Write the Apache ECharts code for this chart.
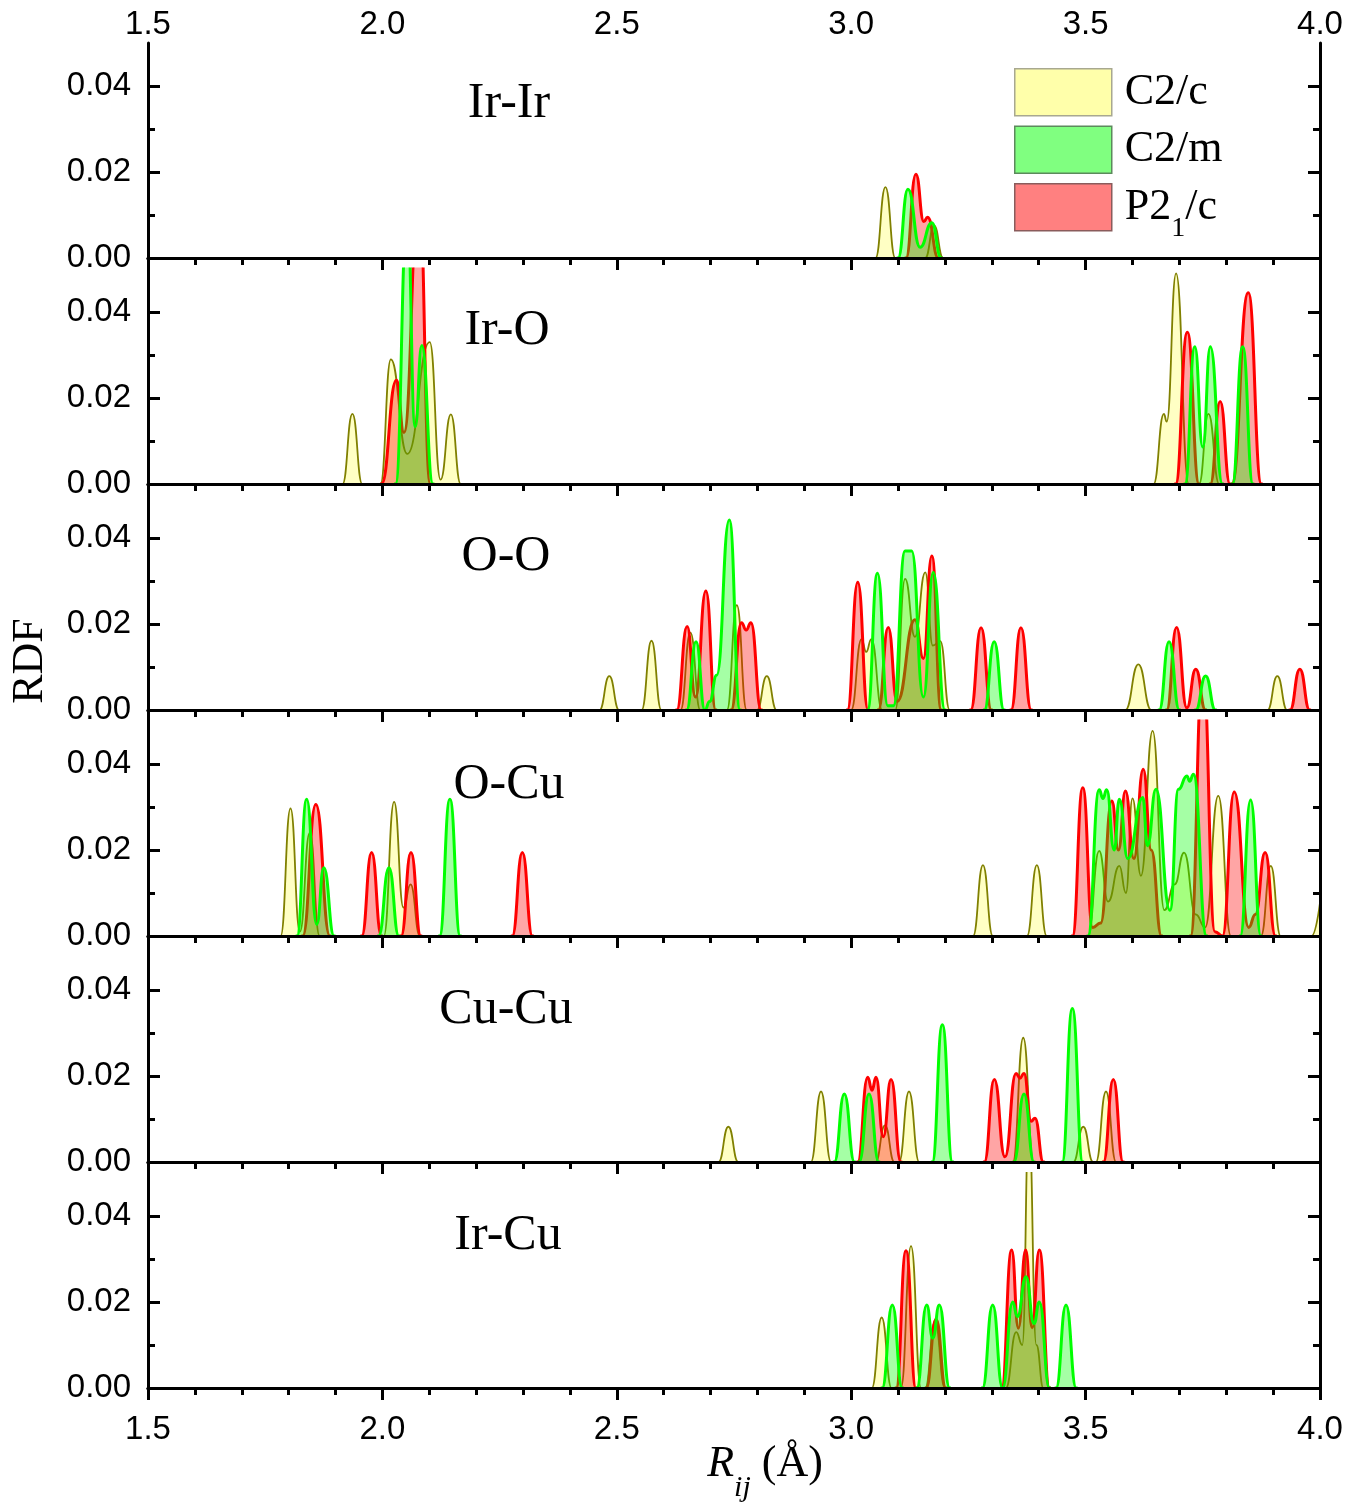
<!DOCTYPE html>
<html>
<head>
<meta charset="utf-8">
<script src="https://cdn.jsdelivr.net/npm/echarts@6/dist/echarts.min.js"></script>
<style>
  html, body { margin: 0; padding: 0; background: #ffffff; }
  #chart { width: 1364px; height: 1503px; }
</style>
</head>
<body>
<div id="chart"></div>
<script>
// ---- axis ticks and labels ----
const xTicks = [1.5, 2.0, 2.5, 3.0, 3.5, 4.0];
const yTicks = [0.00, 0.02, 0.04];
const yMinorTicks = [0.01, 0.03];

// ---- pair names (one panel each) and structure names ----
const panelNames = ['Ir-Ir', 'Ir-O', 'O-O', 'O-Cu', 'Cu-Cu', 'Ir-Cu'];
const seriesNames = ['C2/c', 'C2/m', 'P2_1/c'];

// ---- RDF curves: [R (Å), g] points along each curve ----
// Ir-Ir
const irIr_C2c = [[3.052,0],[3.073,0.0165],[3.094,0],[3.158,0],[3.177,0.0075],[3.196,0]];
const irIr_C2m = [[3.100,0],[3.121,0.016],[3.147,0.0025],[3.172,0.0082],[3.192,0]];
const irIr_P21c = [[3.117,0],[3.138,0.0195],[3.155,0.0085],[3.163,0.0095],[3.186,0]];

// Ir-O
const irO_C2c = [[1.915,0],[1.936,0.0163],[1.957,0],[1.996,0],[2.018,0.029],[2.053,0.007],[2.101,0.033],[2.124,0.001],[2.146,0.0162],[2.167,0],
                 [3.645,0],[3.667,0.0163],[3.673,0.0145],[3.693,0.049],[3.72,0],[3.742,0],[3.762,0.0163],[3.785,0]];
const irO_C2m = [[2.028,0],[2.053,0.062],[2.07,0.0133],[2.084,0.0322],[2.108,0],
                 [3.712,0],[3.733,0.0319],[3.75,0.0086],[3.766,0.0319],[3.792,0],[3.813,0],[3.835,0.0319],[3.857,0]];
const irO_P21c = [[1.998,0],[2.03,0.0241],[2.046,0.012],[2.078,0.068],[2.102,0],
                  [3.692,0],[3.717,0.0353],[3.742,0],[3.766,0],[3.787,0.0192],[3.808,0],[3.812,0],[3.847,0.0445],[3.875,0]];

// O-O
const oo_C2c = [[2.463,0],[2.484,0.0079],[2.505,0],[2.553,0],[2.574,0.0161],[2.595,0],[2.636,0],[2.657,0.018],[2.678,0],
                [2.735,0],[2.756,0.0244],[2.777,0],[2.799,0],[2.82,0.0079],[2.841,0],
                [3.0,0],[3.022,0.0165],[3.032,0.0135],[3.043,0.0165],[3.066,0],[3.094,0],[3.115,0.0305],[3.136,0.017],[3.158,0.032],[3.174,0.015],[3.19,0.016],[3.21,0],
                [3.585,0],[3.6125,0.0106],[3.64,0],[3.888,0],[3.909,0.0079],[3.93,0]];
const oo_C2m = [[2.649,0],[2.669,0.0159],[2.688,0],[2.698,0.002],[2.713,0.0081],[2.74,0.0442],[2.763,0],
                [3.035,0],[3.056,0.0318],[3.078,0.001],[3.09,0.001],[3.115,0.037],[3.129,0.037],[3.154,0.003],[3.175,0.032],[3.2,0],
                [3.284,0],[3.305,0.0159],[3.326,0],[3.657,0],[3.678,0.0159],[3.7,0],[3.735,0],[3.756,0.0079],[3.777,0]];
const oo_P21c = [[2.628,0],[2.65,0.0194],[2.668,0.003],[2.69,0.0277],[2.711,0],[2.744,0],[2.766,0.0203],[2.776,0.0186],[2.786,0.0203],[2.808,0],
                 [2.992,0],[3.014,0.0297],[3.036,0],[3.058,0],[3.079,0.0192],[3.098,0.002],[3.136,0.021],[3.154,0.012],[3.172,0.0358],[3.192,0],
                 [3.255,0],[3.277,0.0191],[3.299,0],[3.341,0],[3.362,0.0191],[3.384,0],
                 [3.673,0],[3.694,0.0192],[3.716,0.0005],[3.735,0.0095],[3.756,0],[3.936,0],[3.957,0.0095],[3.978,0]];

// O-Cu
const oCu_C2c = [[1.783,0],[1.804,0.0297],[1.824,0.001],[1.845,0.024],[1.866,0],
                 [2.003,0],[2.025,0.0312],[2.045,0.0066],[2.06,0.012],[2.08,0],
                 [3.26,0],[3.281,0.0165],[3.302,0],[3.375,0],[3.396,0.0165],[3.417,0],
                 [3.505,0],[3.529,0.0198],[3.548,0.008],[3.572,0.0163],[3.586,0.01],[3.6,0.032],[3.618,0.014],[3.643,0.0477],[3.668,0.006],
                 [3.69,0.012],[3.71,0.0194],[3.735,0.005],[3.755,0.002],[3.783,0.0326],[3.81,0],[3.874,0],[3.895,0.0163],[3.916,0],[3.982,0],[4.005,0.012]];
const oCu_C2m = [[1.818,0],[1.8385,0.0318],[1.86,0.0027],[1.875,0.0159],[1.897,0],[1.992,0],[2.014,0.0159],[2.035,0],[2.122,0],[2.144,0.0318],[2.166,0],
                 [3.505,0],[3.529,0.034],[3.537,0.032],[3.545,0.034],[3.561,0.02],[3.572,0.0318],[3.59,0.018],[3.622,0.0322],[3.632,0.021],[3.65,0.0341],
                 [3.68,0.006],[3.698,0.0341],[3.716,0.0372],[3.722,0.036],[3.73,0.0376],[3.758,0],[3.83,0],[3.852,0.0316],[3.874,0]];
const oCu_P21c = [[1.83,0],[1.858,0.0306],[1.888,0],[1.956,0],[1.977,0.0194],[1.998,0],[2.04,0],[2.061,0.0194],[2.082,0],[2.277,0],[2.2985,0.0194],[2.32,0],
                  [3.472,0],[3.494,0.0345],[3.515,0.002],[3.532,0.003],[3.556,0.0314],[3.57,0.02],[3.585,0.0337],[3.603,0.018],[3.623,0.0388],[3.64,0.02],
                  [3.662,0],[3.724,0],[3.75,0.062],[3.776,0.001],[3.792,0],[3.817,0.0335],[3.848,0.002],[3.862,0.005],[3.883,0.0194],[3.905,0]];

// Cu-Cu
const cuCu_C2c = [[2.717,0],[2.738,0.0082],[2.759,0],[2.914,0],[2.9356,0.0164],[2.957,0],[3.052,0],[3.072,0.0085],[3.092,0],[3.102,0],[3.1233,0.0164],[3.145,0],
                  [3.345,0],[3.367,0.0289],[3.389,0],[3.474,0],[3.495,0.0082],[3.516,0],[3.522,0],[3.5435,0.0164],[3.565,0]];
const cuCu_C2m = [[2.964,0],[2.9853,0.0158],[3.007,0],[3.017,0],[3.038,0.0158],[3.059,0],[3.173,0],[3.1944,0.0319],[3.216,0],
                  [3.347,0],[3.3686,0.0158],[3.39,0],[3.45,0],[3.4717,0.0357],[3.494,0]];
const cuCu_P21c = [[3.014,0],[3.0352,0.0197],[3.0444,0.0167],[3.0529,0.0197],[3.0685,0.0059],[3.085,0.0192],[3.106,0],
                   [3.284,0],[3.3053,0.0192],[3.328,0.0012],[3.3516,0.0206],[3.36,0.0195],[3.3686,0.0206],[3.384,0.0095],[3.392,0.0102],[3.41,0],
                   [3.538,0],[3.5591,0.0192],[3.58,0]];

// Ir-Cu
const irCu_C2c = [[3.044,0],[3.065,0.0164],[3.086,0],[3.106,0],[3.1276,0.033],[3.149,0],[3.158,0],[3.1787,0.0154],[3.2,0],
                  [3.33,0],[3.352,0.013],[3.365,0.01],[3.379,0.062],[3.395,0.01],[3.41,0]];
const irCu_C2m = [[3.066,0],[3.0877,0.0193],[3.109,0],[3.14,0],[3.161,0.0193],[3.174,0.0116],[3.188,0.0193],[3.21,0],
                  [3.28,0],[3.3018,0.0193],[3.323,0],[3.3445,0.02],[3.3544,0.0166],[3.3729,0.0259],[3.39,0.015],[3.4013,0.02],[3.423,0],
                  [3.437,0],[3.4582,0.0193],[3.48,0]];
const irCu_P21c = [[3.096,0],[3.1169,0.0319],[3.138,0],[3.16,0],[3.1809,0.016],[3.202,0],
                   [3.321,0],[3.3423,0.0321],[3.3565,0.0139],[3.3722,0.0321],[3.386,0.014],[3.4013,0.0321],[3.423,0]];

// per panel: [C2/c, C2/m, P2_1/c]
const panelData = [
  [irIr_C2c, irIr_C2m, irIr_P21c],
  [irO_C2c, irO_C2m, irO_P21c],
  [oo_C2c, oo_C2m, oo_P21c],
  [oCu_C2c, oCu_C2m, oCu_P21c],
  [cuCu_C2c, cuCu_C2m, cuCu_P21c],
  [irCu_C2c, irCu_C2m, irCu_P21c]
];

// Break the curve where it runs along the baseline between two peaks, so
// nothing is stroked over the x axis. Each piece keeps a tiny flat lead-in
// and lead-out so that the smoothed peak still leaves the baseline flat.
const LEAD = 0.003;
function splitAtBaseline(points) {
  const out = [];
  points.forEach((p, i) => {
    const prev = points[i - 1];
    const newRun = i === 0 || (prev[1] === 0 && p[1] === 0);
    if (i > 0 && newRun) {
      out.push([prev[0] + LEAD, 0]);
      out.push([prev[0] + LEAD, '-']);
    }
    if (newRun && p[1] === 0) out.push([p[0] - LEAD, 0]);
    out.push(p);
  });
  const last = points[points.length - 1];
  if (last[1] === 0) out.push([last[0] + LEAD, 0]);
  return out;
}

// ---- styling ----
const lineColors = ['#808000', '#00ff00', '#ff0000'];
const lineWidths = [1.8, 3, 3];
const areaColors = ['rgba(255,255,0,0.33)', 'rgba(0,255,0,0.5)', 'rgba(255,0,0,0.5)'];
const legendFills = ['#ffffaa', '#80ff80', '#ff8080'];
const legendBorders = ['#a8a890', '#5c8a5c', '#8a5c5c'];
const drawOrder = [0, 2, 1];   // C2/c, then P2_1/c, then C2/m on top

const GRID_LEFT = 148, GRID_W = 1172, GRID_TOP = 43, GRID_H = 215, GRID_STEP = 226;
const tickFont = { fontFamily: 'Liberation Sans', fontSize: 33, color: '#000' };
const frameLine = { show: true, lineStyle: { color: '#000', width: 3 } };
const tickLine = { width: 3, color: '#000' };

const grids = [], xAxes = [], yAxes = [], series = [];

panelNames.forEach((pname, i) => {
  const last = i === panelNames.length - 1;
  grids.push({ left: GRID_LEFT, top: GRID_TOP + GRID_STEP * i, width: GRID_W, height: GRID_H });

  const xBase = { gridIndex: i, type: 'value', min: 1.5, max: 4.0, interval: 0.5, z: 10,
                  axisLine: frameLine, splitLine: { show: false } };
  // bottom edge
  xAxes.push(Object.assign({}, xBase, {
    position: 'bottom',
    axisTick: { show: last, inside: false, length: 12, lineStyle: tickLine },
    minorTick: { show: last, splitNumber: 5, length: 7, lineStyle: tickLine },
    axisLabel: { show: last, margin: 25, customValues: xTicks, formatter: v => v.toFixed(1), ...tickFont }
  }));
  // top edge
  xAxes.push(Object.assign({}, xBase, {
    position: 'top',
    axisTick: { show: true, inside: true, length: 12, lineStyle: tickLine },
    minorTick: { show: true, splitNumber: 5, length: 7, lineStyle: tickLine },
    axisLabel: { show: i === 0, margin: 2, customValues: xTicks, formatter: v => v.toFixed(1), ...tickFont }
  }));

  const yBase = { gridIndex: i, type: 'value', min: 0, max: 0.05, z: 10, splitLine: { show: false } };
  ['left', 'right'].forEach(side => {
    yAxes.push(Object.assign({}, yBase, {
      position: side,
      axisLine: frameLine,
      axisTick: { show: true, inside: true, length: 12, customValues: yTicks, lineStyle: tickLine },
      axisLabel: { show: side === 'left', margin: 17, customValues: yTicks, formatter: v => v.toFixed(2), ...tickFont }
    }));
    yAxes.push(Object.assign({}, yBase, {
      position: side,
      axisLine: { show: false },
      axisTick: { show: true, inside: true, length: 7, customValues: yMinorTicks, lineStyle: tickLine },
      axisLabel: { show: false }
    }));
  });

  drawOrder.forEach((k, order) => {
    series.push({
      name: seriesNames[k],
      type: 'line',
      xAxisIndex: 2 * i,
      yAxisIndex: 4 * i,
      data: splitAtBaseline(panelData[i][k]),
      smooth: 0.5,
      smoothMonotone: 'x',
      connectNulls: false,
      symbol: 'none',
      clip: true,
      lineStyle: { color: lineColors[k], width: lineWidths[k] },
      itemStyle: { color: legendFills[k] },
      areaStyle: { color: areaColors[k], origin: 'start' },
      emphasis: { disabled: true },
      z: 2 + order
    });
  });
});

// panel captions
const captionPos = [[509, 104], [507, 331], [506, 557], [509, 785], [506, 1010], [508, 1236]];
const centered = { align: 'center', verticalAlign: 'middle', textAlign: 'center', textVerticalAlign: 'middle' };
const graphics = panelNames.map((pname, i) => ({
  type: 'text', x: captionPos[i][0], y: captionPos[i][1], z: 20,
  style: Object.assign({ text: pname, font: '50px "Liberation Serif"', fill: '#000' }, centered)
}));
// y-axis title
graphics.push({
  type: 'text', x: 30, y: 661, rotation: Math.PI / 2, z: 20,
  style: Object.assign({ text: 'RDF', font: '44px "Liberation Serif"', fill: '#000' }, centered)
});
// x-axis title, R with subscript ij
graphics.push({
  type: 'text', x: 765, y: 1464, z: 20,
  style: Object.assign({
    text: '{r|R}{s|ij}{n| (Å)}', fill: '#000',
    rich: {
      r: { fontFamily: 'Liberation Serif', fontSize: 44, fontStyle: 'italic', fill: '#000' },
      s: { fontFamily: 'Liberation Serif', fontSize: 30, fontStyle: 'italic', fill: '#000', padding: [48, 0, 0, 0] },
      n: { fontFamily: 'Liberation Serif', fontSize: 44, fill: '#000' }
    }
  }, centered)
});

const chart = echarts.init(document.getElementById('chart'), null, { renderer: 'canvas' });
chart.setOption({
  animation: false,
  backgroundColor: '#ffffff',
  grid: grids,
  xAxis: xAxes,
  yAxis: yAxes,
  series: series,
  legend: {
    orient: 'vertical', left: 1014, top: 68, padding: 0,
    itemWidth: 97, itemHeight: 47, itemGap: 9,
    icon: 'rect', selectedMode: false,
    data: seriesNames.map((n, k) => ({
      name: n,
      itemStyle: { color: legendFills[k], borderColor: legendBorders[k], borderWidth: 1.5, opacity: 1 }
    })),
    formatter: n => n === 'P2_1/c' ? '{m|P2}{s|1}{m|/c}' : '{m|' + n + '}',
    textStyle: {
      padding: [0, 0, 0, 8],
      rich: {
        m: { fontFamily: 'Liberation Serif', fontSize: 44, color: '#000' },
        s: { fontFamily: 'Liberation Serif', fontSize: 28, color: '#000', padding: [42, 0, 0, 0] }
      }
    }
  },
  graphic: graphics
});
</script>
</body>
</html>
